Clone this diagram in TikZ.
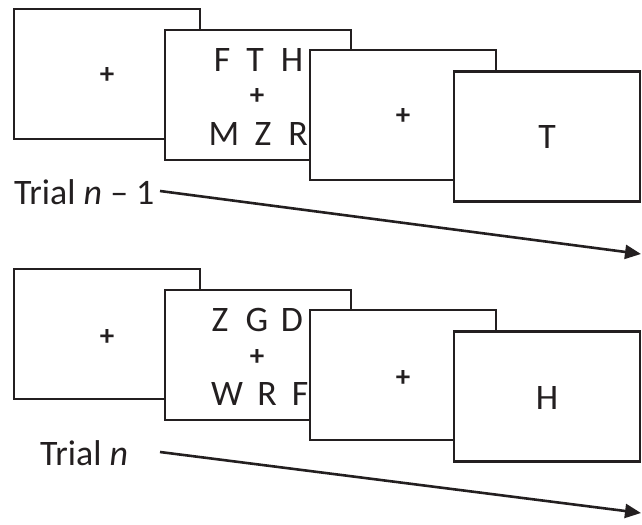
\documentclass[tikz,border=0pt]{standalone}
\usepackage{fontspec}
\setmainfont{Carlito}
\usetikzlibrary{arrows.meta}
\definecolor{ink}{HTML}{231F20}
\tikzset{
  screen/.style={draw=ink, line width=2.4bp, fill=white, minimum width=186bp, minimum height=130bp, inner sep=0pt},
  letter/.style={text=ink, inner sep=0pt, font=\fontsize{36}{40}\selectfont},
  fix/.style={text=ink, inner sep=0pt, font=\fontsize{29}{32}\selectfont\bfseries},
  label/.style={text=ink, inner sep=0pt, anchor=base west, font=\fontsize{36}{40}\selectfont},
  timeline/.style={draw=ink, line width=2.6bp, -{Triangle[length=16bp,width=14bp]}}
}
\begin{document}
\begin{tikzpicture}[x=1bp,y=-1bp]
\useasboundingbox (0,0) rectangle (642,525);
% ---- Trial n-1 ----
\node[screen] (a1) at (107,74) {};
\node[fix] (a1p) at (107,76) {+};
\node[screen] (a2) at (258,95) {};
\node[letter] (a2l1) at (222,60) {F};
\node[letter] (a2l2) at (255,60) {T};
\node[letter] (a2l3) at (292,60) {H};
\node[fix] (a2p) at (257,97) {+};
\node[letter] (a2l4) at (224,134) {M};
\node[letter] (a2l5) at (263,134) {Z};
\node[letter] (a2l6) at (298,134) {R};
\node[screen] (a3) at (403,115) {};
\node[fix] (a3p) at (403,117) {+};
\node[screen] (a4) at (547,136.5) {};
\node[letter] (a4t) at (547,137) {T};
\node[label] (la) at (14,205) {Trial \textit{n} – 1};
\coordinate (sa) at (160,191);
\coordinate (ea) at (641,254);
\draw[timeline] (sa) -- (ea);
% ---- Trial n ----
\node[screen] (b1) at (107,334) {};
\node[fix] (b1p) at (107,337) {+};
\node[screen] (b2) at (258,355) {};
\node[letter] (b2l1) at (220,320) {Z};
\node[letter] (b2l2) at (257,320) {G};
\node[letter] (b2l3) at (292,320) {D};
\node[fix] (b2p) at (257,357) {+};
\node[letter] (b2l4) at (227,394) {W};
\node[letter] (b2l5) at (267,394) {R};
\node[letter] (b2l6) at (300,394) {F};
\node[screen] (b3) at (403,375) {};
\node[fix] (b3p) at (403,378) {+};
\node[screen] (b4) at (547,396.5) {};
\node[letter] (b4t) at (547,398) {H};
\node[label] (lb) at (40,465) {Trial \textit{n}};
\coordinate (sb) at (160,452);
\coordinate (eb) at (641,513);
\draw[timeline] (sb) -- (eb);
\end{tikzpicture}
\end{document}
